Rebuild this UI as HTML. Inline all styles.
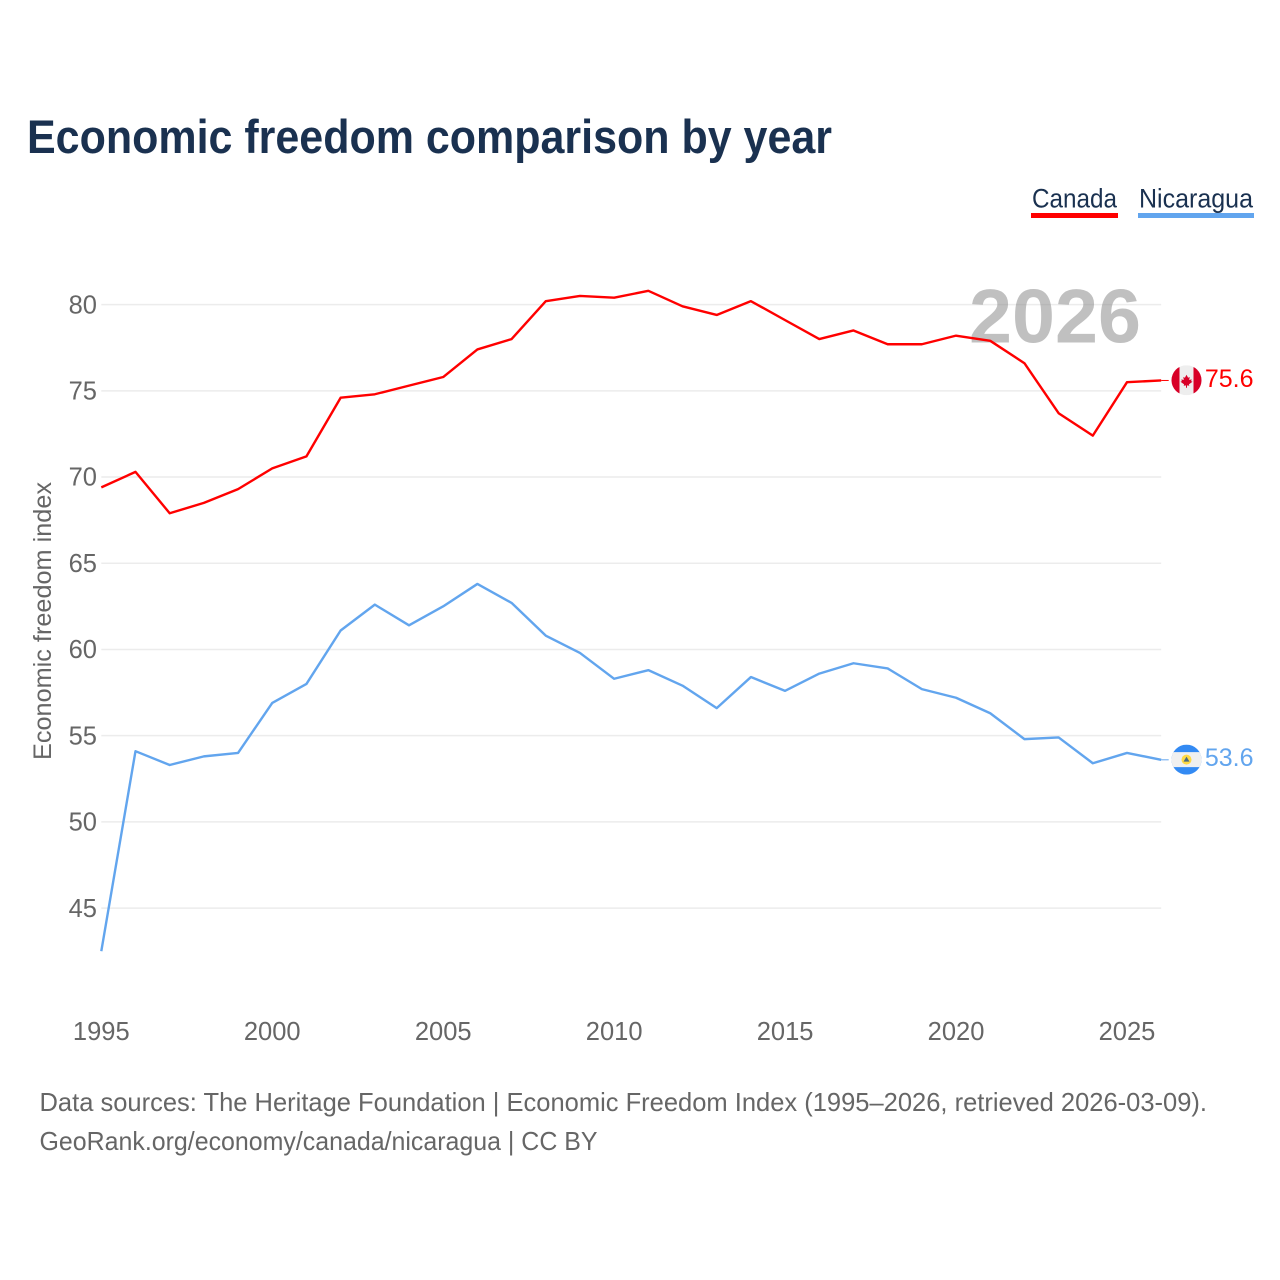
<!DOCTYPE html>
<html lang="en">
<head>
<meta charset="utf-8">
<title>Economic freedom comparison by year</title>
<style>
html,body{margin:0;padding:0;background:#fff;width:1280px;height:1280px;overflow:hidden}
svg{display:block}
text{font-family:"Liberation Sans",sans-serif}
</style>
</head>
<body>
<svg id="chart" xmlns="http://www.w3.org/2000/svg" width="1280" height="1280" viewBox="0 0 1280 1280">
  <text x="27" y="153" font-size="47" font-weight="700" fill="#1a3150" textLength="805" lengthAdjust="spacingAndGlyphs">Economic freedom comparison by year</text>

  <g>
    <g>
      <text x="1032" y="207.5" font-size="27" fill="#1a3150" textLength="85" lengthAdjust="spacingAndGlyphs">Canada</text>
      <rect x="1031" y="213" width="87" height="5" fill="#ff0000"></rect>
    </g>
    <g>
      <text x="1139" y="207.5" font-size="27" fill="#1a3150" textLength="114" lengthAdjust="spacingAndGlyphs">Nicaragua</text>
      <rect x="1138" y="213" width="116" height="5" fill="#62a5ee"></rect>
    </g>
  </g>

  <text transform="translate(51,621) rotate(-90)" text-anchor="middle" font-size="25" fill="#666666" textLength="278" lengthAdjust="spacingAndGlyphs">Economic freedom index</text>

  <g id="grid"></g>
  <g id="yticks"></g>
  <g id="xticks"></g>

  <text x="1055" y="342.5" text-anchor="middle" font-size="76" font-weight="700" fill="#8c8c8c" fill-opacity="0.55" textLength="172" lengthAdjust="spacingAndGlyphs">2026</text>

  <g id="series"></g>

  <defs>
    <clipPath id="clip-ca"><circle id="clip-ca-c" cx="1186.5" cy="380" r="15"></circle></clipPath>
    <clipPath id="clip-ni"><circle id="clip-ni-c" cx="1186.5" cy="759.5" r="15"></circle></clipPath>
  </defs>

  <g id="flag-ca" clip-path="url(#clip-ca)">
    <rect x="1171" y="-15" width="31" height="30" fill="#eeeeee"></rect>
    <rect x="1171" y="-15" width="8.5" height="30" fill="#d80027"></rect>
    <rect x="1193.5" y="-15" width="8.5" height="30" fill="#d80027"></rect>
    <path d="M1186.5 -5.5 l1.6 3 1.6 -0.8 -0.5 3 2.5 -0.6 -0.6 1.8 1.4 0.6 -3.6 2.6 0.4 1.4 -2.3 -0.4 0 2.4 -1 0 0 -2.4 -2.3 0.4 0.4 -1.4 -3.6 -2.6 1.4 -0.6 -0.6 -1.8 2.5 0.6 -0.5 -3 1.6 0.8z" fill="#d80027"></path>
  </g>

  <g id="flag-ni" clip-path="url(#clip-ni)">
    <rect x="1171" y="-15" width="31" height="30" fill="#338af3"></rect>
    <rect x="1171" y="-7.5" width="31" height="15" fill="#f0f0f0"></rect>
    <circle cx="1186.5" cy="0" r="5" fill="#ffda44"></circle>
    <path d="M1186.5 -3 l3 5 -6 0z" fill="#4a6a80"></path>
  </g>

  <text x="39.5" y="1111" font-size="26" fill="#666666" textLength="1167.5" lengthAdjust="spacingAndGlyphs">Data sources: The Heritage Foundation | Economic Freedom Index (1995–2026, retrieved 2026-03-09).</text>
  <text x="39.5" y="1150" font-size="26" fill="#666666" textLength="558" lengthAdjust="spacingAndGlyphs">GeoRank.org/economy/canada/nicaragua | CC BY</text>
</svg>

<script>
const years = [1995,1996,1997,1998,1999,2000,2001,2002,2003,2004,2005,2006,2007,2008,2009,2010,2011,2012,2013,2014,2015,2016,2017,2018,2019,2020,2021,2022,2023,2024,2025,2026];
const canadaValues = [69.4,70.3,67.9,68.5,69.3,70.5,71.2,74.6,74.8,75.3,75.8,77.4,78.0,80.2,80.5,80.4,80.8,79.9,79.4,80.2,79.1,78.0,78.5,77.7,77.7,78.2,77.9,76.6,73.7,72.4,75.5,75.6];
const nicaraguaValues = [42.5,54.1,53.3,53.8,54.0,56.9,58.0,61.1,62.6,61.4,62.5,63.8,62.7,60.8,59.8,58.3,58.8,57.9,56.6,58.4,57.6,58.6,59.2,58.9,57.7,57.2,56.3,54.8,54.9,53.4,54.0,53.6];
const yTickValues = [45,50,55,60,65,70,75,80];
const xTickValues = [1995,2000,2005,2010,2015,2020,2025];

const SVG_NS = 'http://www.w3.org/2000/svg';
function xScale(year){ return 101.3 + (year - 1995) * 34.19; }
function yScale(v){ return 304.6 + (80 - v) * 17.243; }

const grid = document.getElementById('grid');
const yticks = document.getElementById('yticks');
const xticks = document.getElementById('xticks');
const seriesGroup = document.getElementById('series');

yTickValues.forEach(function(v){
  const line = document.createElementNS(SVG_NS, 'line');
  
  
  line.setAttribute('x1', xScale(1995));
  line.setAttribute('x2', xScale(2026));
  line.setAttribute('y1', yScale(v));
  line.setAttribute('y2', yScale(v));
  line.setAttribute('stroke', '#ececec');
  line.setAttribute('stroke-width', '1.5');
  grid.appendChild(line);

  const label = document.createElementNS(SVG_NS, 'text');
  
  
  label.setAttribute('x', 97);
  label.setAttribute('y', yScale(v) + 8.7);
  label.setAttribute('text-anchor', 'end');
  label.setAttribute('font-size', '25.5');
  label.setAttribute('fill', '#666666');
  label.textContent = v;
  yticks.appendChild(label);
});

xTickValues.forEach(function(y){
  const label = document.createElementNS(SVG_NS, 'text');
  
  
  label.setAttribute('x', xScale(y));
  label.setAttribute('y', 1040);
  label.setAttribute('text-anchor', 'middle');
  label.setAttribute('font-size', '25.5');
  label.setAttribute('fill', '#666666');
  label.textContent = y;
  xticks.appendChild(label);
});

function drawSeries(values, color, textColor, key, flagId, clipId){
  const path = document.createElementNS(SVG_NS, 'path');
  
  
  path.setAttribute('d', values.map(function(v, i){
    return (i ? 'L' : 'M') + xScale(years[i]).toFixed(2) + ' ' + yScale(v).toFixed(2);
  }).join(' '));
  path.setAttribute('fill', 'none');
  path.setAttribute('stroke', color);
  path.setAttribute('stroke-width', '2.4');
  path.setAttribute('stroke-linejoin', 'round');
  seriesGroup.appendChild(path);

  const last = values[values.length - 1];
  const lastX = xScale(years[years.length - 1]);
  const lastY = yScale(last);

  const connector = document.createElementNS(SVG_NS, 'line');
  
  
  connector.setAttribute('x1', lastX);
  connector.setAttribute('x2', lastX + 7.5);
  connector.setAttribute('y1', lastY);
  connector.setAttribute('y2', lastY);
  connector.setAttribute('stroke', color);
  connector.setAttribute('stroke-width', '1');
  seriesGroup.appendChild(connector);

  const flag = document.getElementById(flagId);
  Array.prototype.forEach.call(flag.children, function(c){
    c.setAttribute('transform', 'translate(0,' + (lastY - 0.2).toFixed(2) + ')');
  });
  document.getElementById(clipId).setAttribute('cy', (lastY - 0.2).toFixed(2));

  const label = document.createElementNS(SVG_NS, 'text');
  
  
  label.setAttribute('x', 1253.5);
  label.setAttribute('y', lastY + 6.3);
  label.setAttribute('text-anchor', 'end');
  label.setAttribute('font-size', '25');
  label.setAttribute('fill', textColor);
  label.textContent = last.toFixed(1);
  seriesGroup.appendChild(label);
}

drawSeries(canadaValues, '#ff0000', '#ff0000', 'canada', 'flag-ca', 'clip-ca-c');
drawSeries(nicaraguaValues, '#62a5ee', '#62a5ee', 'nicaragua', 'flag-ni', 'clip-ni-c');
</script>
</body>
</html>
